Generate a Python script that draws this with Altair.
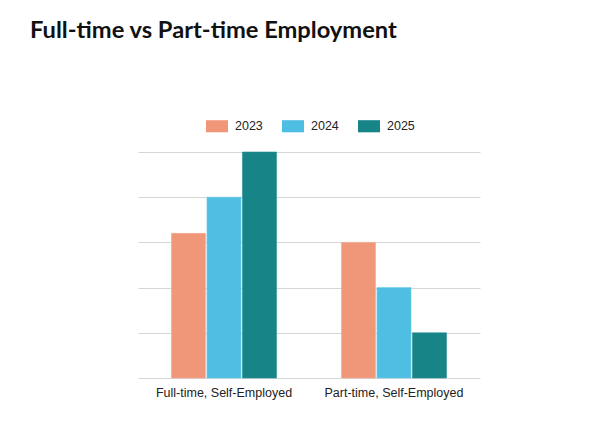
import altair as alt
import pandas as pd

categories = ["Full-time, Self-Employed", "Part-time, Self-Employed"]
years = ["2023", "2024", "2025"]
values_2023 = [3.2, 3.0]
values_2024 = [4.0, 2.0]
values_2025 = [5.0, 1.0]
year_colors = ["#F0977A", "#4EBEE3", "#178488"]

rows = []
for year, vals in zip(years, [values_2023, values_2024, values_2025]):
    for cat, v in zip(categories, vals):
        rows.append({"Category": cat, "Year": year, "Value": v})
df = pd.DataFrame(rows)

chart = alt.Chart(df).mark_bar(strokeWidth=1, strokeOpacity=0.6).encode(
    x=alt.X("Category:N", sort=categories, title=None,
            scale=alt.Scale(paddingInner=0.382, paddingOuter=0.197),
            axis=alt.Axis(labelAngle=0, domain=False, ticks=False, labelPadding=8,
                          labelFont="Liberation Sans", labelFontSize=12.5,
                          labelColor="#222222")),
    xOffset=alt.XOffset("Year:N", sort=years,
                        scale=alt.Scale(paddingInner=0.04, paddingOuter=0)),
    y=alt.Y("Value:Q", title=None,
            scale=alt.Scale(domain=[0, 5], nice=False),
            axis=alt.Axis(labels=False, ticks=False, domain=False, tickCount=5,
                          gridColor="#d6d6d6", gridWidth=1.2)),
    color=alt.Color("Year:N", sort=years,
                    scale=alt.Scale(domain=years, range=year_colors),
                    legend=alt.Legend(title=None, orient="none", direction="horizontal",
                                      legendX=68, legendY=-37,
                                      symbolType="M-1,-0.55L1,-0.55L1,0.55L-1,0.55Z",
                                      symbolSize=484, symbolStrokeWidth=0,
                                      labelFont="Liberation Sans", labelOffset=7,
                                      labelFontSize=12.5, labelColor="#222222",
                                      columnPadding=19)),
    stroke=alt.Stroke("Year:N", sort=years,
                      scale=alt.Scale(domain=years, range=["#F7A98F", "#6CCBEA", "#2A8F94"]),
                      legend=None),
).properties(
    width=342,
    height=226,
    title=alt.Title("Full-time vs Part-time Employment", anchor="start", dx=-108,
                    font="Lato", fontSize=23.7, fontWeight="bold", color="#111111",
                    offset=72),
    padding={"left": 22, "top": 11, "right": 10, "bottom": 10},
).configure_view(stroke=None)

chart.save("out.html", embed_options={"renderer": "svg", "actions": False})
